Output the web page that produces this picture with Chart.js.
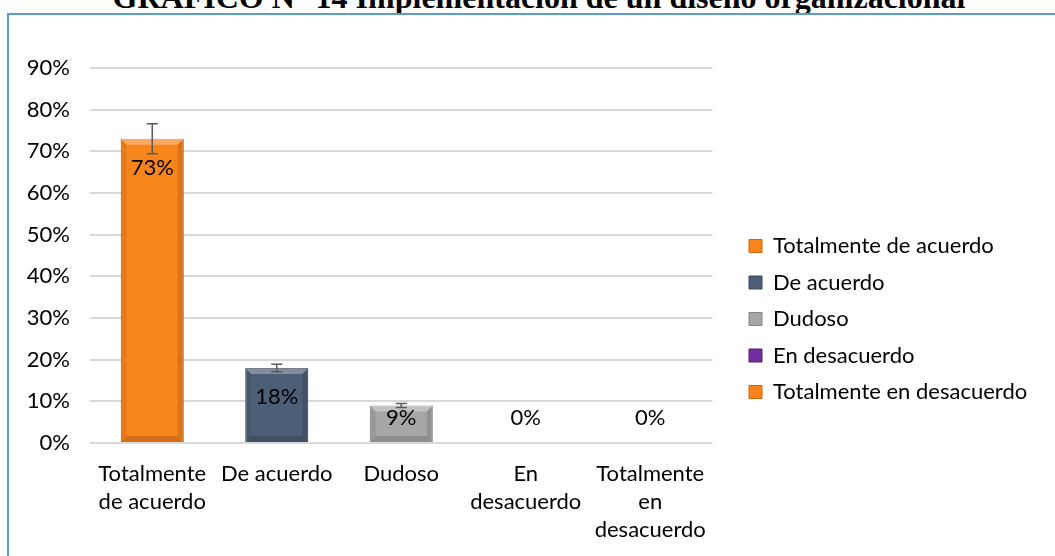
<!DOCTYPE html>
<html>
<head>
<meta charset="utf-8">
<script src="https://cdn.jsdelivr.net/npm/chart.js@4.4.1/dist/chart.umd.min.js"></script>
<style>
  html, body { margin: 0; padding: 0; background: #fff; overflow: hidden; width: 1055px; height: 556px; }
  #title { position: absolute; left: 0; width: 1078px; top: -19px; text-align: center; white-space: nowrap;
           font: bold 32px "Liberation Serif", "Times New Roman", serif; line-height: 32px; color: #000; }
  #frame { position: absolute; left: 7px; top: 13px; width: 1100px; height: 700px; border: 2px solid #5b9bd5; }
  #wrap { position: absolute; left: 9px; top: 14px; width: 1046px; height: 556px; }
</style>
</head>
<body>
<div id="title">GRAFICO N° 14 Implementación de un diseño organizacional</div>
<div id="frame"></div>
<div id="wrap"><canvas id="chart"></canvas></div>
<script>
// data
const categories = ["Totalmente de acuerdo", "De acuerdo", "Dudoso", "En desacuerdo", "Totalmente en desacuerdo"];
const axisLabels = [["Totalmente", "de acuerdo"], "De acuerdo", "Dudoso", ["En", "desacuerdo"], ["Totalmente", "en", "desacuerdo"]];
const percents = [73, 18, 9, 0, 0];
const errorAmount = [3.6, 0.9, 0.5, 0, 0];
const yTicks = [0, 10, 20, 30, 40, 50, 60, 70, 80, 90];

const faceColors = ["#f8841c", "#4d5e77", "#a6a6a6", "#7030a0", "#f8841c"];
const edgeColors = ["#d0620a", "#3a4659", "#858585", "#4f1f74", "#d0620a"];

const FONT = "Lato, 'Open Sans', sans-serif";

// excel-like bevel on the bars
const bevel = {
  id: "bevel",
  afterDatasetsDraw(chart) {
    const ctx = chart.ctx;
    const b = 6;
    ctx.save();
    chart.getDatasetMeta(0).data.forEach((bar) => {
      const l = bar.x - bar.width / 2, r = bar.x + bar.width / 2;
      const t = bar.y, bt = bar.base;
      if (bt - t < 2 * b) return;
      const poly = (pts, col) => {
        ctx.beginPath();
        ctx.moveTo(pts[0][0], pts[0][1]);
        pts.slice(1).forEach(p => ctx.lineTo(p[0], p[1]));
        ctx.closePath();
        ctx.fillStyle = col;
        ctx.fill();
      };
      poly([[l, t], [r, t], [r - b, t + b], [l + b, t + b]], "rgba(255,255,255,0.3)");
      poly([[l, t], [l + b, t + b], [l + b, bt - b], [l, bt]], "rgba(0,0,0,0.07)");
      poly([[r, t], [r - b, t + b], [r - b, bt - b], [r, bt]], "rgba(0,0,0,0.12)");
      poly([[l, bt], [l + b, bt - b], [r - b, bt - b], [r, bt]], "rgba(0,0,0,0.15)");
    });
    ctx.restore();
  }
};

// error bars on top of each bar
const errorBars = {
  id: "errorBars",
  afterDatasetsDraw(chart) {
    const ctx = chart.ctx;
    const y = chart.scales.y;
    const meta = chart.getDatasetMeta(0);
    ctx.save();
    ctx.strokeStyle = "#595959";
    ctx.lineWidth = 1.5;
    meta.data.forEach((bar, i) => {
      if (!errorAmount[i]) return;
      const top = y.getPixelForValue(percents[i] + errorAmount[i]);
      const bot = y.getPixelForValue(percents[i] - errorAmount[i]);
      ctx.beginPath();
      ctx.moveTo(bar.x, top); ctx.lineTo(bar.x, bot);
      ctx.moveTo(bar.x - 5.5, top); ctx.lineTo(bar.x + 5.5, top);
      ctx.moveTo(bar.x - 5.5, bot); ctx.lineTo(bar.x + 5.5, bot);
      ctx.stroke();
    });
    ctx.restore();
  }
};

// value labels, inside end like excel
const valueLabels = {
  id: "valueLabels",
  afterDatasetsDraw(chart) {
    const ctx = chart.ctx;
    const base = chart.scales.y.getPixelForValue(0);
    ctx.save();
    ctx.font = "22px " + FONT;
    ctx.fillStyle = "#000";
    ctx.textAlign = "center";
    ctx.textBaseline = "middle";
    chart.getDatasetMeta(0).data.forEach((bar, i) => {
      const ty = Math.min(bar.y + 29, base - 25);
      ctx.fillText(percents[i] + "%", bar.x, ty);
    });
    ctx.restore();
  }
};

// legend sizing / placement
const legendPlace = {
  id: "legendPlace",
  beforeInit(chart) {
    const fit = chart.legend.fit;
    chart.legend.fit = function () {
      fit.bind(chart.legend)();
      this.width = 342.5;
    };
  },
  afterLayout(chart) {
    chart.legend.left += 22;
  }
};

new Chart(document.getElementById("chart"), {
  type: "bar",
  data: {
    labels: axisLabels,
    datasets: [{
      label: "Implementación",
      data: percents,
      backgroundColor: faceColors,
      borderColor: edgeColors,
      borderWidth: 1,
      categoryPercentage: 1,
      barPercentage: 0.506
    }]
  },
  options: {
    responsive: true,
    maintainAspectRatio: false,
    animation: false,
    layout: { padding: { top: 54, right: 0, bottom: 0, left: 0 } },
    plugins: {
      title: { display: false },
      tooltip: { enabled: false },
      legend: {
        position: "right",
        align: "center",
        labels: {
          font: { family: FONT, size: 22 },
          color: "#000",
          boxWidth: 13,
          boxHeight: 13,
          padding: 14.5,
          generateLabels: () => categories.map((c, i) => ({
            text: c,
            fillStyle: faceColors[i],
            strokeStyle: edgeColors[i],
            lineWidth: 1,
            hidden: false,
            index: i
          }))
        }
      }
    },
    scales: {
      x: {
        grid: { display: false },
        border: { display: false },
        ticks: {
          color: "#000",
          font: { family: FONT, size: 22, lineHeight: 28 / 22 },
          padding: 9,
          maxRotation: 0,
          autoSkip: false
        },
        afterFit: (s) => { s.height = 127; }
      },
      y: {
        min: 0,
        max: 90,
        afterBuildTicks: (s) => { s.ticks = yTicks.map(v => ({ value: v })); },
        grid: { color: "#d9d9d9", lineWidth: 2, drawTicks: false },
        border: { display: false },
        ticks: {
          color: "#000",
          font: { family: FONT, size: 22 },
          padding: 20,
          callback: (v) => v + "%"
        },
        afterFit: (s) => { s.width = 81; }
      }
    }
  },
  plugins: [legendPlace, bevel, errorBars, valueLabels]
});
</script>
</body>
</html>
